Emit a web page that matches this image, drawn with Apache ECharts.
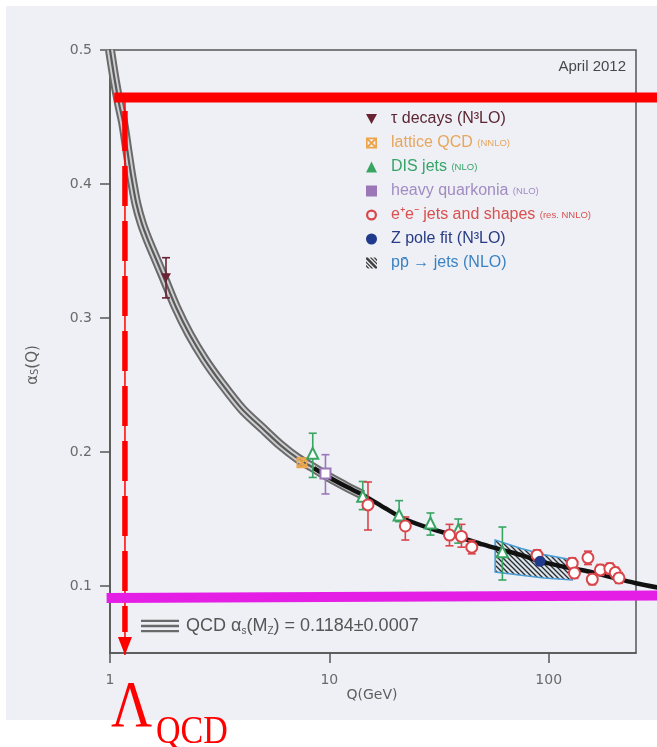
<!DOCTYPE html>
<html>
<head>
<meta charset="utf-8">
<script src="https://cdn.jsdelivr.net/npm/echarts@6/dist/echarts.min.js"></script>
<style>
  html, body { margin: 0; padding: 0; background: #ffffff; }
  #chart { width: 657px; height: 747px; }
</style>
</head>
<body>
<div id="chart"></div>
<script>
// ---- running coupling alpha_s(Q), centre of the QCD band ----
const curveQ = [1.0, 1.05, 1.10, 1.15, 1.20, 1.25, 1.32, 1.40, 1.50, 1.62, 1.75, 2.0, 2.3, 2.7, 3.2, 4.0, 5.0, 6.0, 7.2, 8.5, 10, 12, 14.2, 18, 22, 30, 40, 50, 61, 75, 91.2, 120, 150, 200, 250, 323];
const curveA = [0.500, 0.478, 0.460, 0.445, 0.425, 0.406, 0.385, 0.370, 0.357, 0.344, 0.331, 0.308, 0.288, 0.269, 0.252, 0.232, 0.217, 0.205, 0.195, 0.188, 0.181, 0.174, 0.168, 0.158, 0.150, 0.142, 0.136, 0.131, 0.127, 0.123, 0.1184, 0.114, 0.111, 0.106, 0.102, 0.0985];

// ---- measurements: Q (GeV), alpha_s, lower and upper error ----
const tauQ = [1.8],  tauA = [0.330], tauLo = [0.315], tauHi = [0.345];
const latQ = [7.5],  latA = [0.192], latLo = [0.189], latHi = [0.195];
const disQ  = [8.4, 14.2, 20.8, 28.9, 38.7, 61.5];
const disA  = [0.199, 0.167, 0.153, 0.147, 0.142, 0.1255];
const disLo = [0.181, 0.157, 0.148, 0.138, 0.132, 0.1045];
const disHi = [0.214, 0.178, 0.1637, 0.1545, 0.150, 0.144];
const hqQ = [9.6], hqA = [0.184], hqLo = [0.1687], hqHi = [0.198];
const eeQ  = [15.0, 22.2, 35.3, 40.0, 44.6, 88.5, 128, 131, 151, 158, 172, 190, 201, 209];
const eeA  = [0.1605, 0.1448, 0.138, 0.137, 0.129, 0.123, 0.117, 0.1097, 0.121, 0.105, 0.112, 0.113, 0.110, 0.106];
const eeLo = [0.1418, 0.1343, 0.130, 0.129, 0.124, 0.119, 0.113, 0.1057, 0.116, 0.101, 0.108, 0.109, 0.106, 0.102];
const eeHi = [0.1776, 0.1515, 0.146, 0.146, 0.134, 0.127, 0.121, 0.1137, 0.126, 0.109, 0.116, 0.117, 0.114, 0.110];
const zQ = [91.2], zA = [0.1184];
// Tevatron inclusive-jet band
const ppQ  = [57, 75, 95, 128];
const ppUp = [0.1343, 0.128, 0.1235, 0.1194];
const ppDn = [0.1104, 0.108, 0.106, 0.1045];

// ---- axis ticks ----
const xTicks = [1, 10, 100];
const yTicks = [0.1, 0.2, 0.3, 0.4, 0.5];

// ---- legend text ----
const seriesNames = ['τ decays (N³LO)', 'lattice QCD', 'DIS jets', 'heavy quarkonia', 'e⁺e⁻ jets and shapes', 'Z pole fit (N³LO)', 'pp̄ → jets (NLO)'];
const seriesNotes = ['', '(NNLO)', '(NLO)', '(NLO)', '(res. NNLO)', '', ''];
const bandName = 'QCD αs(MZ) = 0.1184±0.0007';

// ---- red / magenta overlay lines ----
const capLineQ = [1.045, 330], capLineA = [0.4645, 0.4645];
const lambdaQ = 1.17, lambdaTopA = 0.4605, lambdaDashEndA = 0.0657, lambdaTipA = 0.0485;
const floorQ = [0.965, 330], floorA = [0.0910, 0.0929];

const colors = {
  tau: '#6b2333', lat: '#eca54a', dis: '#38a563', hq: '#9b77b8',
  ee: '#d9454a', z: '#1f3a8c', pp: '#3a3a3a'
};
const textColors = ['#5c2632', '#e8a55c', '#36a468', '#a28bc2', '#d9504f', '#283b85', '#3b82c4'];

const zip = (xs, ys) => xs.map((x, i) => [x, ys[i]]);
const zip3 = (xs, a, b) => xs.map((x, i) => [x, a[i], b[i]]);

const bandPts = zip(curveQ, curveA).filter(p => p[0] <= 14.2);
const blackPts = zip(curveQ, curveA).filter(p => p[0] >= 8.5);

// hatch fill for the jet band
const hatch = document.createElement('canvas');
hatch.width = 5; hatch.height = 5;
(function () {
  const g = hatch.getContext('2d');
  g.fillStyle = '#dbe5ee'; g.fillRect(0, 0, 5, 5);
  g.strokeStyle = '#2b2b2b'; g.lineWidth = 1.3;
  g.beginPath();
  g.moveTo(-1, -1); g.lineTo(6, 6);
  g.moveTo(-1, 4); g.lineTo(1, 6);
  g.moveTo(4, -1); g.lineTo(6, 1);
  g.stroke();
})();

const latticeIcon = 'path://M0,0L10,0L10,10L0,10Z M1.5,1.5L1.5,8.5L8.5,8.5L8.5,1.5Z M1.5,1.5L2.8,1.5L8.5,7.2L8.5,8.5L7.2,8.5L1.5,2.8Z M8.5,1.5L8.5,2.8L2.8,8.5L1.5,8.5L1.5,7.2L7.2,1.5Z';
const hatchIcon = 'path://M0,0L2,0L12,10L12,12L10,12L0,2Z M4,0L6,0L12,6L12,8Z M8,0L10,0L12,2L12,4Z M0,4L0,6L6,12L8,12Z M0,8L0,10L2,12L4,12Z';
const ringIcon = 'path://M5,0A5,5,0,1,1,5,10A5,5,0,1,1,5,0Z M5,2A3,3,0,1,0,5,8A3,3,0,1,0,5,2Z';
const downTriangle = 'path://M0,0L10,0L5,9Z';
const bandIcon = 'path://M0,0H40V2.4H0Z M0,5.3H40V7.7H0Z M0,10.6H40V13H0Z';

function errorBars(color) {
  return function (params, api) {
    const q = api.value(0), lo = api.value(1), hi = api.value(2);
    const top = api.coord([q, hi]), bot = api.coord([q, lo]);
    const w = 4;
    const st = { stroke: color, lineWidth: 1.6 };
    return {
      type: 'group',
      children: [
        { type: 'line', shape: { x1: top[0], y1: top[1], x2: bot[0], y2: bot[1] }, style: st },
        { type: 'line', shape: { x1: top[0] - w, y1: top[1], x2: top[0] + w, y2: top[1] }, style: st },
        { type: 'line', shape: { x1: bot[0] - w, y1: bot[1], x2: bot[0] + w, y2: bot[1] }, style: st }
      ]
    };
  };
}

function errSeries(data, color) {
  return {
    type: 'custom', silent: true, z: 4,
    renderItem: errorBars(color),
    encode: { x: 0, y: [1, 2] },
    data: data
  };
}

// unclipped polyline through data points (may run past the plot frame)
function pathSeries(points, style, z, smooth) {
  return {
    type: 'custom', silent: true, z: z, clip: false,
    encode: { x: 0, y: 1 },
    data: [points[0]],
    renderItem: (params, api) => ({
      type: 'polyline',
      shape: { points: points.map(p => api.coord(p)), smooth: smooth || 0 },
      style: Object.assign({ fill: null }, style)
    })
  };
}

const chart = echarts.init(document.getElementById('chart'), null, { renderer: 'canvas' });

const mainFont = 'Liberation Sans';
const tickFont = 'DejaVu Sans';

const option = {
  animation: false,
  backgroundColor: '#ffffff',
  grid: {
    left: 110, right: 21, top: 50, bottom: 94,
    show: true, borderColor: '#555555', borderWidth: 1.5, backgroundColor: 'transparent'
  },
  xAxis: {
    type: 'log', logBase: 10, min: 1, max: 250,
    axisLine: { show: true, lineStyle: { color: '#555555', width: 1.5 } },
    axisTick: { show: true, customValues: xTicks, length: 10, lineStyle: { color: '#555555', width: 1.5 } },
    axisLabel: { customValues: xTicks, margin: 20, color: '#6a6a6a', fontFamily: tickFont, fontSize: 14 },
    splitLine: { show: false }, minorTick: { show: false }
  },
  yAxis: {
    type: 'value', min: 0.05, max: 0.5,
    axisLine: { show: true, lineStyle: { color: '#555555', width: 1.5 } },
    axisTick: { show: true, customValues: yTicks, length: 10, lineStyle: { color: '#555555', width: 1.5 } },
    axisLabel: { customValues: yTicks, margin: 18, color: '#6a6a6a', fontFamily: tickFont, fontSize: 14,
      formatter: v => v.toFixed(1) },
    splitLine: { show: false }
  },
  legend: [
    {
      orient: 'vertical', left: 361, top: 106,
      itemWidth: 11, itemHeight: 11, itemGap: 8,
      selectedMode: false,
      textStyle: {
        fontFamily: mainFont, fontSize: 16, lineHeight: 14, padding: [0, 0, 0, 9],
        rich: { s: { fontSize: 9.5, fontFamily: mainFont, verticalAlign: 'middle' } }
      },
      formatter: name => {
        const i = seriesNames.indexOf(name);
        return seriesNotes[i] ? name + ' {s|' + seriesNotes[i] + '}' : name;
      },
      data: [
        { name: seriesNames[0], icon: downTriangle, itemStyle: { color: colors.tau }, textStyle: { color: textColors[0] } },
        { name: seriesNames[1], icon: latticeIcon, itemStyle: { color: colors.lat }, textStyle: { color: textColors[1] } },
        { name: seriesNames[2], icon: 'triangle', itemStyle: { color: colors.dis, borderWidth: 0 }, textStyle: { color: textColors[2] } },
        { name: seriesNames[3], icon: 'rect', itemStyle: { color: colors.hq, borderWidth: 0 }, textStyle: { color: textColors[3] } },
        { name: seriesNames[4], icon: ringIcon, itemStyle: { color: colors.ee, borderWidth: 0 }, textStyle: { color: textColors[4] } },
        { name: seriesNames[5], icon: 'circle', itemStyle: { color: colors.z }, textStyle: { color: textColors[5] } },
        { name: seriesNames[6], icon: hatchIcon, itemStyle: { color: '#3f3f3f' }, textStyle: { color: textColors[6] } }
      ]
    },
    {
      left: 136, top: 611, itemWidth: 38, itemHeight: 13,
      selectedMode: false,
      textStyle: {
        color: '#555555', fontFamily: mainFont, fontSize: 18, lineHeight: 20, padding: [0, 0, 0, 2],
        rich: {
          m: { fontSize: 18, fontFamily: mainFont, color: '#555555' },
          sub: { fontSize: 10, fontFamily: mainFont, color: '#555555', verticalAlign: 'bottom', lineHeight: 12 }
        }
      },
      formatter: () => '{m|QCD α}{sub|s}{m|(M}{sub|Z}{m|) = 0.1184±0.0007}',
      data: [{ name: bandName, icon: bandIcon, itemStyle: { color: '#6a6a6a' } }]
    }
  ],
  graphic: [
    { type: 'rect', z: -100, silent: true, shape: { x: 6, y: 6, width: 651, height: 714 }, style: { fill: '#eef0f5' } },
    { type: 'text', x: 626, y: 67, silent: true,
      style: { text: 'April 2012', fill: '#474747', font: '15px "Liberation Sans"', align: 'right', verticalAlign: 'middle' } },
    { type: 'text', x: 372, y: 695, silent: true,
      style: { text: 'Q(GeV)', fill: '#5e5e5e', font: '14px "DejaVu Sans"', align: 'center', verticalAlign: 'middle' } },
    { type: 'text', x: 33, y: 365, rotation: Math.PI / 2, silent: true,
      style: {
        text: '{a|α}{b|S}{a|(Q)}', align: 'center', verticalAlign: 'middle',
        rich: {
          a: { fontSize: 15, fontFamily: 'DejaVu Sans', fill: '#5e5e5e', color: '#5e5e5e' },
          b: { fontSize: 10, fontFamily: 'DejaVu Sans', fill: '#5e5e5e', color: '#5e5e5e', verticalAlign: 'bottom', lineHeight: 10 }
        }
      } },
    { type: 'text', x: 111, y: 709, scaleX: 0.86, silent: true,
      style: { text: 'Λ', fill: '#ff0000', font: '66px "Liberation Serif"', align: 'left', verticalAlign: 'middle' } },
    { type: 'text', x: 156, y: 732, scaleX: 0.85, silent: true,
      style: { text: 'QCD', fill: '#ff0000', font: '40px "Liberation Serif"', align: 'left', verticalAlign: 'middle' } }
  ],
  series: [
    // QCD band: three dark strands with light gaps
    { name: bandName, type: 'line', data: bandPts, symbol: 'none', smooth: 0.3, z: 2, silent: true,
      lineStyle: { color: '#6a6a6a', width: 10 }, itemStyle: { color: '#6a6a6a' } },
    { type: 'line', data: bandPts, symbol: 'none', smooth: 0.3, z: 2, silent: true,
      lineStyle: { color: '#cfcfd2', width: 6 } },
    { type: 'line', data: bandPts, symbol: 'none', smooth: 0.3, z: 2, silent: true,
      lineStyle: { color: '#5a5a5a', width: 2.2 } },
    // Tevatron jets band
    {
      name: seriesNames[6], type: 'custom', z: 2, silent: true,
      itemStyle: { color: '#3f3f3f' },
      renderItem: (params, api) => {
        if (params.dataIndex !== 0) return null;
        const pts = [];
        for (let i = 0; i < ppQ.length; i++) pts.push(api.coord([ppQ[i], ppUp[i]]));
        for (let i = ppQ.length - 1; i >= 0; i--) pts.push(api.coord([ppQ[i], ppDn[i]]));
        return {
          type: 'polygon', shape: { points: pts },
          style: { fill: { image: hatch, repeat: 'repeat' }, stroke: '#4a9cd6', lineWidth: 1.6 }
        };
      },
      encode: { x: 0, y: 1 },
      data: zip(ppQ, ppUp)
    },
    // high-Q part of the curve, running out past the frame
    pathSeries(blackPts, { stroke: '#111111', lineWidth: 4.5, lineJoin: 'round' }, 3, 0.3),

    // error bars
    errSeries(zip3(tauQ, tauLo, tauHi), colors.tau),
    errSeries(zip3(latQ, latLo, latHi), colors.lat),
    errSeries(zip3(disQ, disLo, disHi), colors.dis),
    errSeries(zip3(hqQ, hqLo, hqHi), colors.hq),
    errSeries(zip3(eeQ, eeLo, eeHi), colors.ee),

    // markers
    { name: seriesNames[0], type: 'scatter', z: 5, data: zip(tauQ, tauA), symbol: downTriangle, symbolSize: [10, 9],
      itemStyle: { color: colors.tau, opacity: 1 } },
    { name: seriesNames[1], type: 'scatter', z: 5, data: zip(latQ, latA), symbol: latticeIcon, symbolSize: 11,
      itemStyle: { color: colors.lat, opacity: 1 } },
    { name: seriesNames[2], type: 'scatter', z: 5, data: zip(disQ, disA), symbol: 'emptyTriangle', symbolSize: 11,
      itemStyle: { color: colors.dis, borderColor: colors.dis, borderWidth: 1.7, opacity: 1 } },
    { name: seriesNames[3], type: 'scatter', z: 5, data: zip(hqQ, hqA), symbol: 'emptyRect', symbolSize: 10,
      itemStyle: { color: colors.hq, borderColor: colors.hq, borderWidth: 1.7, opacity: 1 } },
    { name: seriesNames[4], type: 'scatter', z: 5, data: zip(eeQ, eeA), symbol: 'emptyCircle', symbolSize: 11,
      itemStyle: { color: colors.ee, borderColor: colors.ee, borderWidth: 2.3, opacity: 1 } },
    { name: seriesNames[5], type: 'scatter', z: 6, data: zip(zQ, zA), symbol: 'circle', symbolSize: 11,
      itemStyle: { color: colors.z, opacity: 1 } },

    // red and magenta overlay
    pathSeries(zip(capLineQ, capLineA), { stroke: '#ff0000', lineWidth: 10, lineCap: 'butt' }, 10),
    pathSeries([[lambdaQ, capLineA[0]], [lambdaQ, lambdaTipA]], { stroke: '#ff0000', lineWidth: 1.5 }, 10),
    pathSeries([[lambdaQ, lambdaTopA], [lambdaQ, lambdaDashEndA]],
      { stroke: '#ff0000', lineWidth: 5.5, lineCap: 'butt', lineDash: [40, 15], lineDashOffset: 47 }, 10),
    {
      type: 'custom', silent: true, z: 10, clip: false,
      encode: { x: 0, y: 1 },
      data: [[lambdaQ, lambdaTipA]],
      renderItem: (params, api) => {
        const tip = api.coord([api.value(0), api.value(1)]);
        return {
          type: 'polygon',
          shape: { points: [tip, [tip[0] - 7, tip[1] - 18], [tip[0] + 7, tip[1] - 18]] },
          style: { fill: '#ff0000' }
        };
      }
    },
    pathSeries(zip(floorQ, floorA), { stroke: '#e51ee6', lineWidth: 10, lineCap: 'butt' }, 10)
  ]
};

chart.setOption(option);
</script>
</body>
</html>
